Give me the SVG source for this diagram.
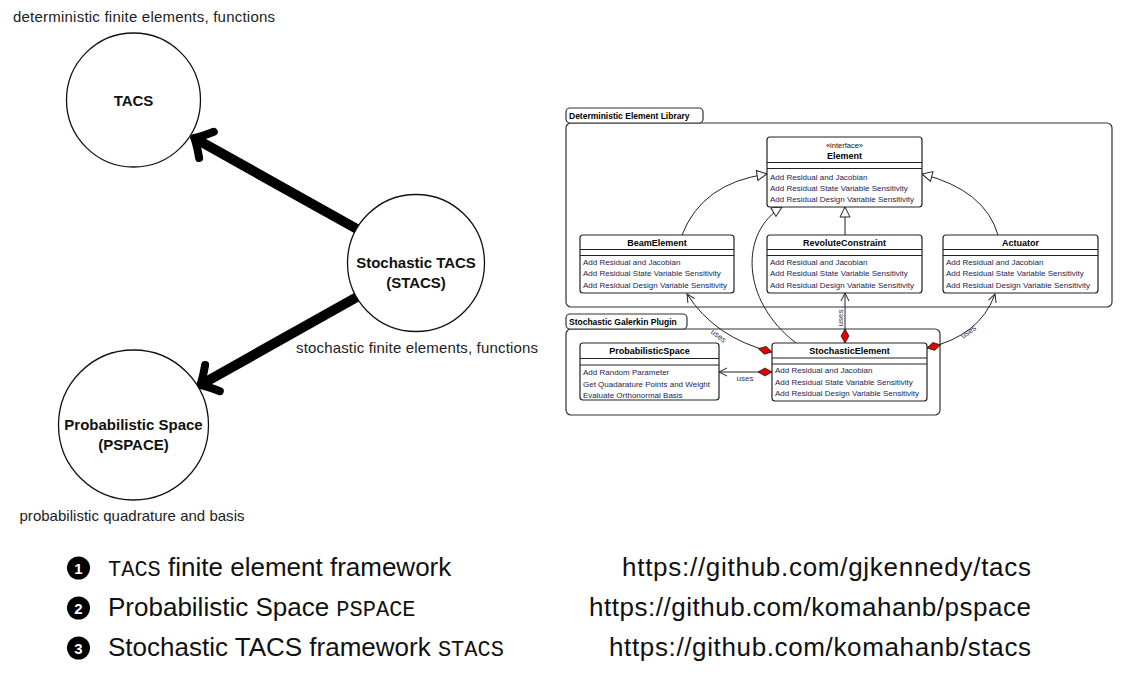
<svg xmlns="http://www.w3.org/2000/svg" width="1121" height="681" viewBox="0 0 1121 681">
<style>
.lbl{font-family:"Liberation Sans",Arial,sans-serif;font-size:15px;fill:#222}
.nd{font-family:"Liberation Sans",Arial,sans-serif;font-size:15px;font-weight:bold;fill:#111;text-anchor:middle}
.circ{fill:#fff;stroke:#111;stroke-width:1.3}
.thick{stroke:#000;stroke-width:10;fill:none}
.pkg{fill:none;stroke:#333;stroke-width:1.2}
.tab{fill:#fff;stroke:#333;stroke-width:1.2}
.tabt{font-family:"Liberation Sans",Arial,sans-serif;font-size:8.5px;font-weight:bold;fill:#000}
.box{fill:#fff;stroke:#222;stroke-width:1.2}
.sep{stroke:#222;stroke-width:1}
.ttl{font-family:"Liberation Sans",Arial,sans-serif;font-size:9px;font-weight:bold;fill:#000;text-anchor:middle}
.st{font-family:"Liberation Sans",Arial,sans-serif;font-size:7.5px;fill:#111;text-anchor:middle}
.m{font-family:"Liberation Sans",Arial,sans-serif;font-size:8px;fill:#24244e}
.conn{fill:none;stroke:#222;stroke-width:1}
.uses{font-family:"Liberation Sans",Arial,sans-serif;font-size:8px;fill:#33335e;text-anchor:middle}
.li{font-family:"Liberation Sans",Arial,sans-serif;font-size:26px;fill:#111}
.mono{font-family:"Liberation Mono","Courier New",monospace;font-size:22px}
.url{font-family:"Liberation Sans",Arial,sans-serif;font-size:26px;fill:#111;text-anchor:end}
.bul{fill:#000}
.bn{font-family:"Liberation Sans",Arial,sans-serif;font-size:15px;font-weight:bold;fill:#fff;text-anchor:middle}
</style>
<defs>
<marker id="big" markerUnits="userSpaceOnUse" orient="auto" overflow="visible" refX="0" refY="0" markerWidth="40" markerHeight="40" viewBox="-20 -20 40 40">
<path d="M -12,-15 Q -3,-4 2,0 Q -3,4 -12,15" fill="none" stroke="#000" stroke-width="8" stroke-linecap="round" stroke-linejoin="round"/>
</marker>
<marker id="tri" markerUnits="userSpaceOnUse" orient="auto" overflow="visible" refX="0" refY="0" markerWidth="12" markerHeight="12" viewBox="-12 -6 12 12">
<path d="M0,0 L-10,-5 L-10,5 Z" fill="#fff" stroke="#222" stroke-width="1"/>
</marker>
<marker id="open" markerUnits="userSpaceOnUse" orient="auto" overflow="visible" refX="0" refY="0" markerWidth="10" markerHeight="10" viewBox="-10 -5 10 10">
<path d="M-8,-4 L0,0 L-8,4" fill="none" stroke="#222" stroke-width="1"/>
</marker>
<marker id="dia" markerUnits="userSpaceOnUse" orient="auto" overflow="visible" refX="0" refY="0" markerWidth="16" markerHeight="10" viewBox="0 -5 16 10">
<path d="M0,0 L7,-4 L14,0 L7,4 Z" fill="#e00000" stroke="#222" stroke-width="0.8"/>
</marker>
</defs>

<!-- left concept diagram -->
<g id="connectors-left">
<path class="thick" d="M 357 229 L 196 139" marker-end="url(#big)"/>
<path class="thick" d="M 357 297 L 202 384" marker-end="url(#big)"/>
</g>
<g id="tacs">
<circle class="circ" cx="133.5" cy="100" r="67"/>
<text class="nd" x="133.5" y="105.5">TACS</text>
<text class="lbl" x="13" y="22" textLength="262">deterministic finite elements, functions</text>
</g>
<g id="stacs">
<circle class="circ" cx="416" cy="263" r="68.5"/>
<text class="nd" x="416" y="267.5">Stochastic TACS</text>
<text class="nd" x="416" y="287.5">(STACS)</text>
<text class="lbl" x="296" y="353" textLength="242">stochastic finite elements, functions</text>
</g>
<g id="pspace">
<circle class="circ" cx="133.5" cy="425" r="75"/>
<text class="nd" x="133.5" y="429.5">Probabilistic Space</text>
<text class="nd" x="133.5" y="449.5">(PSPACE)</text>
<text class="lbl" x="19.5" y="521" textLength="225">probabilistic quadrature and basis</text>
</g>

<!-- UML packages -->
<g id="pkg-det">
<rect class="pkg" x="566" y="123" width="546" height="184" rx="5"/>
<rect class="tab" x="566" y="108" width="137" height="15" rx="4"/>
<text class="tabt" x="569" y="119">Deterministic Element Library</text>
</g>
<g id="pkg-stoch">
<rect class="pkg" x="566" y="329" width="374" height="86" rx="5"/>
<rect class="tab" x="566" y="314" width="121" height="15" rx="4"/>
<text class="tabt" x="569" y="325">Stochastic Galerkin Plugin</text>
</g>

<g id="uml-connectors">
<path class="conn" d="M 682 235 Q 702 183 767 174" marker-end="url(#tri)"/>
<path class="conn" d="M 845 235 L 845 207" marker-end="url(#tri)"/>
<path class="conn" d="M 998 235 Q 985 190 922 174" marker-end="url(#tri)"/>
<path class="conn" d="M 796 343 C 740 300 740 232 782 207" marker-end="url(#tri)"/>
<path class="conn" d="M 772 352 Q 715 338 687 294" marker-start="url(#dia)" marker-end="url(#open)"/>
<path class="conn" d="M 845 343 L 845 293" marker-start="url(#dia)" marker-end="url(#open)"/>
<path class="conn" d="M 927 348 Q 980 336 995 294" marker-start="url(#dia)" marker-end="url(#open)"/>
<path class="conn" d="M 772 372 L 719 372" marker-start="url(#dia)" marker-end="url(#open)"/>
<text class="uses" transform="translate(717,338) rotate(38)">uses</text>
<text class="uses" transform="translate(843,318) rotate(-90)">uses</text>
<text class="uses" transform="translate(970,334) rotate(-36)">uses</text>
<text class="uses" x="745" y="381">uses</text>
</g>

<g id="element">
<rect class="box" x="767" y="137" width="155" height="70" rx="3"/>
<text class="st" x="844.5" y="148">«interface»</text>
<text class="ttl" x="844.5" y="158.5">Element</text>
<line class="sep" x1="767" y1="162.5" x2="922" y2="162.5"/>
<line class="sep" x1="767" y1="168.5" x2="922" y2="168.5"/>
<text class="m" x="770" y="179.5">Add Residual and Jacobian</text>
<text class="m" x="770" y="190.5">Add Residual State Variable Sensitivity</text>
<text class="m" x="770" y="201.5">Add Residual Design Variable Sensitivity</text>
</g>
<g id="beam">
<rect class="box" x="580" y="235" width="154" height="58" rx="3"/>
<text class="ttl" x="657" y="245.5">BeamElement</text>
<line class="sep" x1="580" y1="249.5" x2="734" y2="249.5"/>
<line class="sep" x1="580" y1="255.5" x2="734" y2="255.5"/>
<text class="m" x="583" y="265">Add Residual and Jacobian</text>
<text class="m" x="583" y="276">Add Residual State Variable Sensitivity</text>
<text class="m" x="583" y="288">Add Residual Design Variable Sensitivity</text>
</g>
<g id="revolute">
<rect class="box" x="767" y="235" width="155" height="58" rx="3"/>
<text class="ttl" x="844.5" y="245.5">RevoluteConstraint</text>
<line class="sep" x1="767" y1="249.5" x2="922" y2="249.5"/>
<line class="sep" x1="767" y1="255.5" x2="922" y2="255.5"/>
<text class="m" x="770" y="265">Add Residual and Jacobian</text>
<text class="m" x="770" y="276">Add Residual State Variable Sensitivity</text>
<text class="m" x="770" y="288">Add Residual Design Variable Sensitivity</text>
</g>
<g id="actuator">
<rect class="box" x="943" y="235" width="155" height="58" rx="3"/>
<text class="ttl" x="1020.5" y="245.5">Actuator</text>
<line class="sep" x1="943" y1="249.5" x2="1098" y2="249.5"/>
<line class="sep" x1="943" y1="255.5" x2="1098" y2="255.5"/>
<text class="m" x="946" y="265">Add Residual and Jacobian</text>
<text class="m" x="946" y="276">Add Residual State Variable Sensitivity</text>
<text class="m" x="946" y="288">Add Residual Design Variable Sensitivity</text>
</g>
<g id="probspace">
<rect class="box" x="580" y="343" width="139" height="57" rx="3"/>
<text class="ttl" x="649.5" y="353.5">ProbabilisticSpace</text>
<line class="sep" x1="580" y1="358.5" x2="719" y2="358.5"/>
<line class="sep" x1="580" y1="365" x2="719" y2="365"/>
<text class="m" x="583" y="375">Add Random Parameter</text>
<text class="m" x="583" y="387">Get Quadarature Points and Weight</text>
<text class="m" x="583" y="398">Evaluate Orthonormal Basis</text>
</g>
<g id="stochelem">
<rect class="box" x="772" y="343" width="155" height="58" rx="3"/>
<text class="ttl" x="849.5" y="353.5">StochasticElement</text>
<line class="sep" x1="772" y1="358" x2="927" y2="358"/>
<line class="sep" x1="772" y1="364" x2="927" y2="364"/>
<text class="m" x="775" y="373">Add Residual and Jacobian</text>
<text class="m" x="775" y="385">Add Residual State Variable Sensitivity</text>
<text class="m" x="775" y="396">Add Residual Design Variable Sensitivity</text>
</g>

<!-- list -->
<g id="item1">
<circle class="bul" cx="78.5" cy="568" r="11.5"/>
<text class="bn" x="78.5" y="573.5">1</text>
<text class="li" x="108" y="576"><tspan class="mono">TACS</tspan> finite element framework</text>
<text class="url" x="1031" y="576" textLength="409">https://github.com/gjkennedy/tacs</text>
</g>
<g id="item2">
<circle class="bul" cx="78.5" cy="608" r="11.5"/>
<text class="bn" x="78.5" y="613.5">2</text>
<text class="li" x="108" y="616">Probabilistic Space <tspan class="mono">PSPACE</tspan></text>
<text class="url" x="1031" y="616" textLength="442">https://github.com/komahanb/pspace</text>
</g>
<g id="item3">
<circle class="bul" cx="78.5" cy="648" r="11.5"/>
<text class="bn" x="78.5" y="653.5">3</text>
<text class="li" x="108" y="656">Stochastic TACS framework <tspan class="mono">STACS</tspan></text>
<text class="url" x="1031" y="656" textLength="422">https://github.com/komahanb/stacs</text>
</g>
</svg>
